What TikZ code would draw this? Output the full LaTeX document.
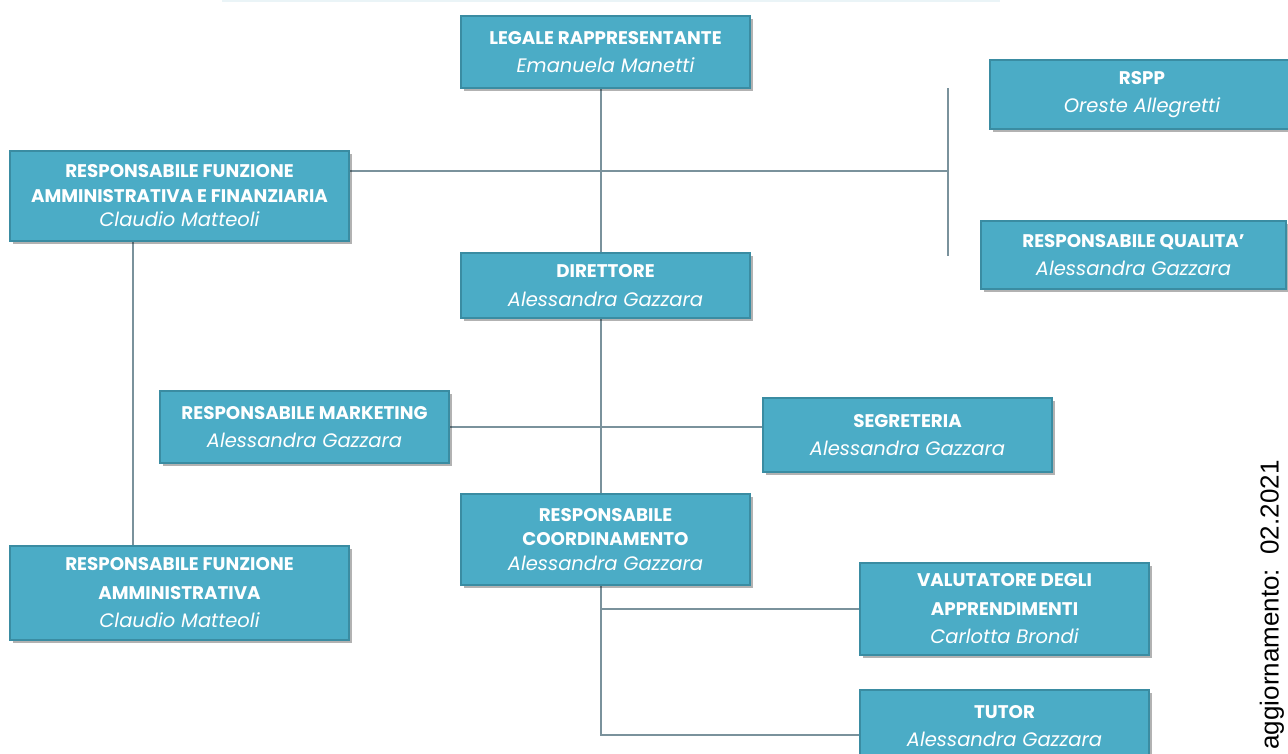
\documentclass[tikz,border=0pt]{standalone}
\usepackage{fontspec}
\setmainfont{Poppins}
\newfontfamily\arialf{Liberation Sans}
\usetikzlibrary{shadows,backgrounds}
\definecolor{boxfill}{HTML}{4BACC6}
\definecolor{boxline}{HTML}{3A8CA2}
\definecolor{conn}{HTML}{7A929C}
\definecolor{topfaint}{HTML}{EAF4F7}
\newcommand{\ttl}[1]{{\bfseries #1}}
\newcommand{\nm}[1]{{\itshape\fontsize{19.5}{19.5}\selectfont #1}}
\begin{document}
\begin{tikzpicture}[x=1pt,y=-1pt,
  box/.style={draw=boxline, line width=1.1pt, fill=boxfill, text=white, align=center,
    inner sep=0pt, font=\fontsize{18.3}{#1}\selectfont,
    drop shadow={shadow xshift=2.5pt, shadow yshift=-2.5pt, fill=black, opacity=0.3}},
  box/.default=28.5,
  conn/.style={draw=conn, line width=1.1pt}]
\useasboundingbox (0,0) rectangle (1288,753);
\fill[topfaint] (222,0) rectangle (1000,2);

\node[box, minimum width=289, minimum height=72] (leg) at (605.5,52)
  {\ttl{LEGALE RAPPRESENTANTE}\\\nm{Emanuela Manetti}};
\node[box, minimum width=304, minimum height=69] (rspp) at (1142,94.5)
  {\ttl{RSPP}\\\nm{Oreste Allegretti}};
\node[box=24.5, minimum width=339, minimum height=90] (raf) at (179.5,196)
  {\ttl{RESPONSABILE FUNZIONE}\\\ttl{AMMINISTRATIVA E FINANZIARIA}\\\nm{Claudio Matteoli}};
\node[box, minimum width=305, minimum height=68] (qual) at (1133.5,255)
  {\ttl{RESPONSABILE QUALITA'}\\\nm{Alessandra Gazzara}};
\node[box, minimum width=289, minimum height=65] (dir) at (605.5,285.5)
  {\ttl{DIRETTORE}\\\nm{Alessandra Gazzara}};
\node[box, minimum width=289, minimum height=72] (mkt) at (304.5,427)
  {\ttl{RESPONSABILE MARKETING}\\\nm{Alessandra Gazzara}};
\node[box, minimum width=289, minimum height=74] (seg) at (907.5,435)
  {\ttl{SEGRETERIA}\\\nm{Alessandra Gazzara}};
\node[box=24.5, minimum width=289, minimum height=91] (coord) at (605.5,539.5)
  {\ttl{RESPONSABILE}\\\ttl{COORDINAMENTO}\\\nm{Alessandra Gazzara}};
\node[box, minimum width=289, minimum height=92] (val) at (1004.5,609)
  {\ttl{VALUTATORE DEGLI}\\\ttl{APPRENDIMENTI}\\\nm{Carlotta Brondi}};
\node[box, minimum width=289, minimum height=72] (tut) at (1004.5,726)
  {\ttl{TUTOR}\\\nm{Alessandra Gazzara}};
\node[box, minimum width=339, minimum height=94] (rfa) at (179.5,593)
  {\ttl{RESPONSABILE FUNZIONE}\\\ttl{AMMINISTRATIVA}\\\nm{Claudio Matteoli}};

\node[rotate=90, font=\arialf\fontsize{26}{26}\selectfont, inner sep=0pt] (agg) at (1272,605)
  {aggiornamento:\ \ 02.2021};

\coordinate (spine) at (601,0);
\coordinate (lv) at (133,0);
\coordinate (bartop) at (948,88);
\coordinate (barbot) at (948,256);
\coordinate (hj) at (948,171);
\coordinate (tj) at (0,735);

\begin{pgfonlayer}{background}
\draw[conn] (leg.south -| spine) -- (coord.north -| spine);
\draw[conn] (raf.east |- hj) -- (hj);
\draw[conn] (bartop) -- (barbot);
\draw[conn] (raf.south -| lv) -- (rfa.north -| lv);
\draw[conn] (mkt.east) -- (mkt.east -| seg.west);
\draw[conn] (coord.south -| spine) |- (tut.west |- tj);
\draw[conn] (spine |- val.west) -- (val.west);
\end{pgfonlayer}
\end{tikzpicture}
\end{document}
